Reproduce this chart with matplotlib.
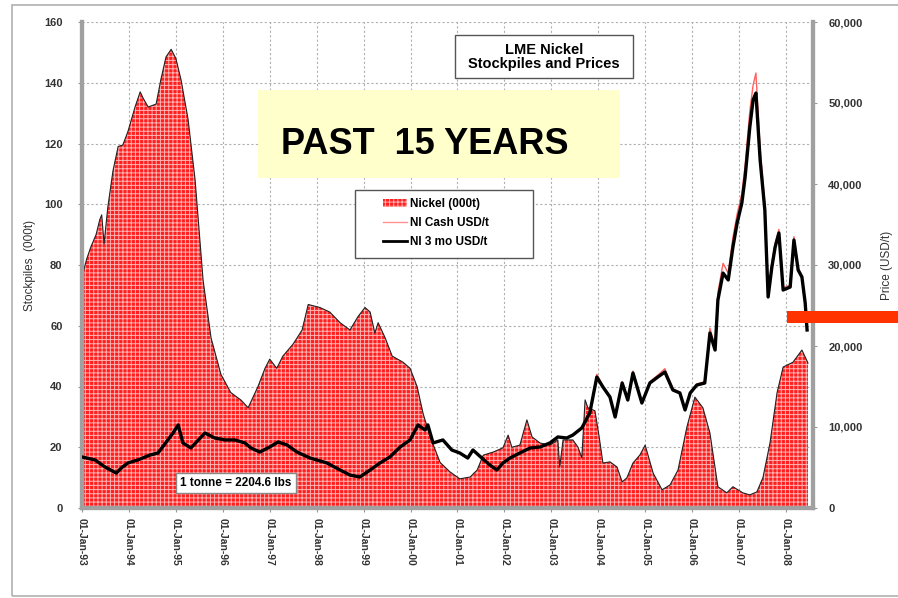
import matplotlib
matplotlib.use("Agg")
import matplotlib.pyplot as plt
import matplotlib.patches as mpatches
from matplotlib.lines import Line2D
import numpy as np

plt.rcParams['font.family'] = ['Liberation Sans', 'DejaVu Sans']
plt.rcParams['hatch.linewidth'] = 0.7

# LME nickel stocks (000t)
stock_t = [1993.00, 1993.10, 1993.19, 1993.30, 1993.38, 1993.42, 1993.47, 1993.55, 1993.66, 1993.77,
           1993.87, 1993.98, 1994.13, 1994.24, 1994.30, 1994.41, 1994.58, 1994.68, 1994.79, 1994.90,
           1995.00, 1995.11, 1995.26, 1995.41, 1995.58, 1995.75, 1995.96, 1996.17, 1996.39, 1996.54,
           1996.75, 1996.90, 1997.00, 1997.15, 1997.28, 1997.50, 1997.69, 1997.82, 1998.07, 1998.28,
           1998.50, 1998.71, 1998.88, 1999.03, 1999.14, 1999.24, 1999.31, 1999.46, 1999.61, 1999.84,
           1999.99, 2000.14, 2000.27, 2000.42, 2000.63, 2000.84, 2001.05, 2001.27, 2001.42, 2001.55,
           2001.76, 2001.97, 2002.08, 2002.16, 2002.33, 2002.48, 2002.59, 2002.76, 2002.97, 2003.14,
           2003.18, 2003.25, 2003.46, 2003.57, 2003.65, 2003.72, 2003.78, 2003.93, 2004.02, 2004.10,
           2004.25, 2004.40, 2004.51, 2004.61, 2004.74, 2004.89, 2005.00, 2005.17, 2005.36, 2005.53,
           2005.70, 2005.89, 2006.06, 2006.23, 2006.38, 2006.55, 2006.74, 2006.87, 2007.08, 2007.23,
           2007.38, 2007.51, 2007.66, 2007.81, 2007.94, 2008.15, 2008.34, 2008.47]
stock_v = [76, 82, 86, 90, 95, 96.5, 87, 99, 111, 119,
           119.5, 124, 132, 137, 135, 132, 133, 141, 148.5, 151,
           148, 141, 128, 108, 75, 56, 44, 38, 35.5, 33,
           40, 46, 49, 46, 50, 54, 58.6, 67, 66, 64.5,
           61, 58.6, 63, 66, 64.5, 57.6, 61, 56, 50, 48,
           46, 40, 31, 23.4, 15, 11.9, 9.6, 10.2, 12.5, 17.4,
           18.4, 19.8, 24, 20, 20.7, 29, 23.4, 21.4, 20.7, 22.4,
           13.5, 22.4, 22.4, 20, 16.5, 35.6, 33, 32, 23.4, 14.8,
           15.2, 13.5, 8.6, 9.9, 14.8, 17.5, 20.7, 11.5, 6, 7.6,
           12.5, 26.7, 36.5, 33, 24.7, 7, 5, 7, 5, 4.3,
           5.3, 10, 21.4, 37.9, 46.4, 48, 52, 47.7]

# prices (USD/t)
price_t = [1993.00, 1993.15, 1993.28, 1993.49, 1993.73, 1993.85, 1993.98, 1994.19, 1994.45, 1994.62,
           1994.83, 1994.94, 1995.05, 1995.15, 1995.32, 1995.62, 1995.83, 1996.05, 1996.26, 1996.47,
           1996.60, 1996.79, 1997.00, 1997.18, 1997.37, 1997.58, 1997.86, 1998.22, 1998.50, 1998.71,
           1998.92, 1999.14, 1999.35, 1999.56, 1999.78, 1999.99, 2000.16, 2000.31, 2000.37, 2000.48,
           2000.69, 2000.88, 2001.05, 2001.22, 2001.33, 2001.52, 2001.69, 2001.84, 2001.97, 2002.12,
           2002.33, 2002.55, 2002.76, 2002.97, 2003.14, 2003.33, 2003.46, 2003.65, 2003.82, 2003.97,
           2004.10, 2004.25, 2004.36, 2004.51, 2004.63, 2004.74, 2004.93, 2005.10, 2005.27, 2005.42,
           2005.59, 2005.74, 2005.85, 2005.96, 2006.10, 2006.27, 2006.38, 2006.49, 2006.55, 2006.66,
           2006.77, 2006.87, 2006.96, 2007.06, 2007.13, 2007.23, 2007.30, 2007.36, 2007.45, 2007.55,
           2007.62, 2007.70, 2007.77, 2007.85, 2007.94, 2008.09, 2008.17, 2008.26, 2008.34, 2008.41,
           2008.45]
ni_3mo = [6300, 6100, 5930, 5060, 4320, 5000, 5560, 5930, 6540, 6790,
          8400, 9260, 10250, 8030, 7410, 9260, 8640, 8400, 8400, 8030,
          7410, 6910, 7530, 8150, 7780, 6910, 6170, 5560, 4690, 4070,
          3830, 4690, 5560, 6300, 7530, 8400, 10250, 9630, 10250, 8030,
          8400, 7160, 6790, 6170, 7160, 6170, 5310, 4690, 5560, 6170,
          6790, 7410, 7530, 8030, 8770, 8640, 9010, 9880, 11730, 16170,
          14940, 13700, 11230, 15430, 13330, 16670, 12960, 15430, 16170, 16790,
          14570, 14200, 12100, 14200, 15180, 15430, 21600, 19500, 25680, 29000,
          28150, 32220, 35190, 37650, 40860, 47030, 50370, 51230, 42960, 36790,
          26050, 29750, 32220, 33950, 26910, 27280, 33090, 29380, 28520, 25310,
          21980]
ni_cash = [6350, 6150, 5950, 5080, 4340, 5020, 5580, 5960, 6580, 6830,
           8500, 9400, 10450, 8100, 7450, 9350, 8700, 8450, 8450, 8060,
           7430, 6930, 7560, 8200, 7800, 6930, 6190, 5570, 4700, 4080,
           3840, 4700, 5580, 6330, 7580, 8500, 10400, 9700, 10350, 8080,
           8450, 7180, 6800, 6180, 7180, 6180, 5320, 4700, 5570, 6190,
           6810, 7430, 7560, 8060, 8800, 8670, 9050, 9950, 11850, 16500,
           15100, 13800, 11300, 15600, 13450, 16900, 13050, 15600, 16400, 17200,
           14700, 14300, 12150, 14300, 15300, 15600, 22200, 19900, 26600, 30200,
           29000, 33400, 36300, 38800, 42300, 49000, 52200, 53700, 44300, 37500,
           26400, 30300, 32700, 34400, 27200, 27500, 33500, 29600, 28700, 25450,
           22100]

years = list(range(1993, 2009))
year_labels = ['01-Jan-%02d' % (y % 100) for y in years]

fig = plt.figure(figsize=(8.98, 5.98), dpi=100)
ax = fig.add_axes([82 / 898, 90 / 598, 731 / 898, 486 / 598])
ax2 = ax.twinx()


def ax_xy(px, py):
    # pixel position in the figure -> axes fraction
    return (px - 82) / 731, (508 - py) / 486


ax.set_axisbelow(True)
ax.fill_between(stock_t, stock_v, 0, facecolor='#ff1f1f', edgecolor='#ffb3b3',
                hatch='++++', linewidth=0, zorder=2)
ax.plot(stock_t, stock_v, color='#222222', lw=0.8, zorder=3)

ax2.plot(price_t, ni_cash, color='#ff6060', lw=1.0, zorder=3)
ax2.plot(price_t, ni_3mo, color='black', lw=2.4, zorder=4)

ax.set_xlim(1993.0, 1993.0 + 731 / 46.93)
ax.set_ylim(0, 160)
ax2.set_ylim(0, 60000)

ax.set_xticks(years)
ax.set_xticklabels(year_labels, rotation=-90, fontsize=7.5, fontweight='bold', color='#333333')
ax.set_yticks(range(0, 161, 20))
ax.set_yticklabels([str(v) for v in range(0, 161, 20)], fontsize=8, fontweight='bold', color='#333333')
ax2.set_yticks(range(0, 60001, 10000))
ax2.set_yticklabels(['0'] + ['{:,}'.format(v) for v in range(10000, 60001, 10000)],
                    fontsize=8, fontweight='bold', color='#333333')

ax.grid(True, color='#b0b0b0', linestyle=(0, (2, 2)), linewidth=0.8)
ax.tick_params(axis='y', length=3, color='#999999', pad=11)
ax.tick_params(axis='x', length=3, color='#999999', pad=4)
ax2.tick_params(axis='y', length=3, color='#999999', pad=8)

for a in (ax, ax2):
    a.spines['top'].set_visible(False)
    for s in ('left', 'bottom', 'right'):
        a.spines[s].set_color('#a0a0a0')
        a.spines[s].set_linewidth(3)

ax.set_ylabel('Stockpiles  (000t)', fontsize=8.5, color='#333333', labelpad=6)
ax2.set_ylabel('Price (USD/t)', fontsize=8.5, color='#333333', labelpad=13)

# yellow banner
ax.add_patch(mpatches.Rectangle(ax_xy(258, 178), 362 / 731, 88 / 486,
                                transform=ax.transAxes, facecolor='#ffffcc', edgecolor='none', zorder=5))
ax.text(*ax_xy(425, 145), 'PAST  15 YEARS', transform=ax.transAxes,
        fontsize=26, fontweight='bold', ha='center', va='center', zorder=6)

# title box
ax2.add_patch(mpatches.Rectangle(ax_xy(455, 78), 178 / 731, 43 / 486, transform=ax.transAxes,
                                 facecolor='white', edgecolor='#555555', linewidth=1, zorder=5))
ax2.text(*ax_xy(544, 57), 'LME Nickel\nStockpiles and Prices', transform=ax.transAxes,
         fontsize=10.5, fontweight='bold', ha='center', va='center', linespacing=1.05, zorder=6)

# conversion note
ax2.text(*ax_xy(236, 483), '1 tonne = 2204.6 lbs', transform=ax.transAxes,
         fontsize=8.5, fontweight='bold', ha='center', va='center', zorder=6,
         bbox=dict(boxstyle='square,pad=0.35', facecolor='white', edgecolor='#888888', linewidth=1))

# legend box drawn separately, legend entries inside it
ax2.add_patch(mpatches.Rectangle(ax_xy(355, 258), 178 / 731, 68 / 486, transform=ax.transAxes,
                                 facecolor='white', edgecolor='#555555', linewidth=1, zorder=6))
handles = [mpatches.Patch(facecolor='#ff1f1f', edgecolor='#ffb3b3', hatch='++++', linewidth=0),
           Line2D([], [], color='#ff9090', lw=1),
           Line2D([], [], color='black', lw=2)]
leg = ax2.legend(handles, ['Nickel (000t)', 'NI Cash USD/t', 'NI 3 mo USD/t'],
                 loc='upper left', bbox_to_anchor=ax_xy(383, 198),
                 prop={'size': 8.5, 'weight': 'bold'}, frameon=False, borderpad=0,
                 handlelength=2.0, handletextpad=0.3, labelspacing=0.6, borderaxespad=0)
leg.set_zorder(7)

# outer frame and red marker bar
fig.patches.append(mpatches.Rectangle((12 / 898, 2 / 598), 890 / 898, 591 / 598, transform=fig.transFigure,
                                      facecolor='none', edgecolor='#b0b0b0', linewidth=1.2))
fig.patches.append(mpatches.Rectangle((787 / 898, (598 - 323) / 598), 111 / 898, 12 / 598,
                                      transform=fig.transFigure, facecolor='#ff3300', edgecolor='none',
                                      zorder=10))

fig.savefig('out.png', dpi=100)
